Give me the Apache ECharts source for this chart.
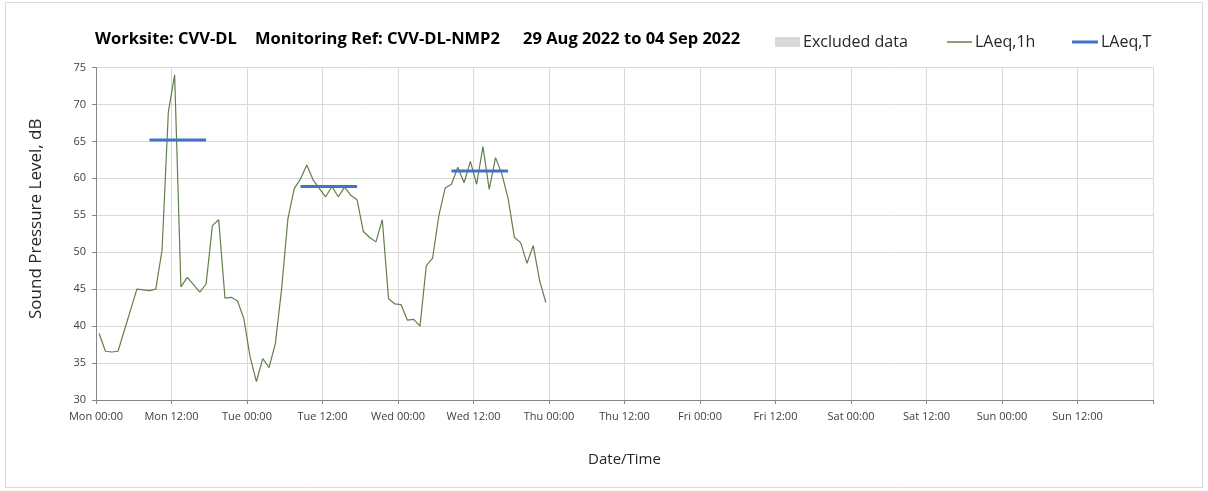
<!DOCTYPE html>
<html>
<head>
<meta charset="utf-8">
<script src="https://cdn.jsdelivr.net/npm/echarts@6/dist/echarts.min.js"></script>
<style>
  html, body { margin: 0; padding: 0; background: #fff; }
  #chart { width: 1208px; height: 491px; }
</style>
</head>
<body>
<div id="chart"></div>
<script>
// hourly LAeq,1h values, first hour starts Mon 00:00 (plotted mid-hour)
const laeq1h = [
  39.0, 36.6, 36.5, 36.6, 39.4, 42.2, 45.0, 44.9, 44.8, 45.0, 50.3, 69.0,
  74.0, 45.3, 46.6, 45.6, 44.6, 45.7, 53.6, 54.4, 43.8, 43.9, 43.4, 41.0,
  35.8, 32.5, 35.6, 34.4, 37.6, 45.0, 54.5, 58.6, 59.9, 61.8, 59.8, 58.6,
  57.5, 58.9, 57.5, 58.8, 57.7, 57.1, 52.8, 52.0, 51.4, 54.4, 43.7, 43.0,
  42.9, 40.8, 40.9, 40.0, 48.2, 49.2, 55.0, 58.7, 59.2, 61.5, 59.4, 62.3,
  59.2, 64.3, 58.5, 62.8, 60.6, 57.3, 52.0, 51.3, 48.5, 50.9, 46.2, 43.2
];

// LAeq,T per monitoring period (hours from Mon 00:00)
const periodStart = [8.5, 32.5, 56.5];
const periodEnd = [17.5, 41.5, 65.5];
const laeqT = [65.2, 58.9, 61.0];

const dayNames = ['Mon', 'Tue', 'Wed', 'Thu', 'Fri', 'Sat', 'Sun'];
const yTicks = [30, 35, 40, 45, 50, 55, 60, 65, 70, 75];

const chart = echarts.init(document.getElementById('chart'));

const font = '"Open Sans", Lato, sans-serif';
const textColor = '#262626';

let hourlyData = laeq1h.map((v, i) => [i + 0.5, v]);

let periodSeries = laeqT.map((v, i) => ({
  name: 'LAeq,T',
  type: 'line',
  data: [[periodStart[i], v], [periodEnd[i], v]],
  symbol: 'none',
  lineStyle: { color: '#4472c4', width: 3 },
  itemStyle: { color: '#4472c4' },
  z: 3
}));

let option = {
  animation: false,
  title: [
    { text: 'Worksite: CVV-DL', left: 95 },
    { text: 'Monitoring Ref: CVV-DL-NMP2', left: 255 },
    { text: '29 Aug 2022 to 04 Sep 2022', left: 523 }
  ].map(t => ({
    ...t,
    top: 31,
    padding: 0,
    textStyle: { fontFamily: font, fontSize: 16.5, fontWeight: 'bold', color: '#000' }
  })),
  legend: [
    { data: ['Excluded data'], left: 775, itemWidth: 25, itemHeight: 10 },
    { data: ['LAeq,1h'], left: 947, itemWidth: 25, itemHeight: 1.5 },
    { data: ['LAeq,T'], left: 1072, itemWidth: 26, itemHeight: 3 }
  ].map(l => ({
    ...l,
    icon: 'rect',
    top: 34,
    padding: 0,
    textStyle: { fontFamily: font, fontSize: 16, color: textColor, padding: [0, 0, 0, -2] }
  })),
  grid: { left: 96, right: 55, top: 67.5, bottom: 91 },
  xAxis: {
    type: 'value',
    min: 0,
    max: 168,
    interval: 12,
    name: 'Date/Time',
    nameLocation: 'middle',
    nameGap: 52,
    nameTextStyle: { fontFamily: font, fontSize: 15, color: textColor },
    axisLine: { lineStyle: { color: '#868686' } },
    axisTick: { show: true, length: 4, lineStyle: { color: '#868686' } },
    axisLabel: {
      fontFamily: font,
      fontSize: 11,
      color: '#404040',
      margin: 11,
      formatter: v => v >= 168 ? '' : dayNames[Math.floor(v / 24)] + (v % 24 === 0 ? ' 00:00' : ' 12:00')
    },
    splitLine: { show: true, lineStyle: { color: '#d9d9d9' } }
  },
  yAxis: {
    type: 'value',
    min: yTicks[0],
    max: yTicks[yTicks.length - 1],
    interval: 5,
    name: 'Sound Pressure Level, dB',
    nameLocation: 'middle',
    nameGap: 51,
    nameTextStyle: { fontFamily: font, fontSize: 17, color: textColor, padding: [0, 0, 0, 30] },
    axisLine: { show: true, lineStyle: { color: '#868686' } },
    axisTick: { show: true, length: 4, lineStyle: { color: '#868686' } },
    axisLabel: { fontFamily: font, fontSize: 11, color: '#404040', margin: 10 },
    splitLine: { show: true, lineStyle: { color: '#d9d9d9' } }
  },
  graphic: [{
    type: 'rect',
    shape: { x: 5.5, y: 2.5, width: 1197, height: 485 },
    style: { fill: 'none', stroke: '#d9d9d9', lineWidth: 1 },
    silent: true
  }],
  series: [
    {
      name: 'Excluded data',
      type: 'bar',
      data: [],
      itemStyle: { color: '#d9d9d9' }
    },
    {
      name: 'LAeq,1h',
      type: 'line',
      data: hourlyData,
      symbol: 'none',
      lineStyle: { color: '#627f4a', width: 1.2 },
      itemStyle: { color: '#627f4a' },
      z: 2
    },
    ...periodSeries
  ]
};

chart.setOption(option);
</script>
</body>
</html>
